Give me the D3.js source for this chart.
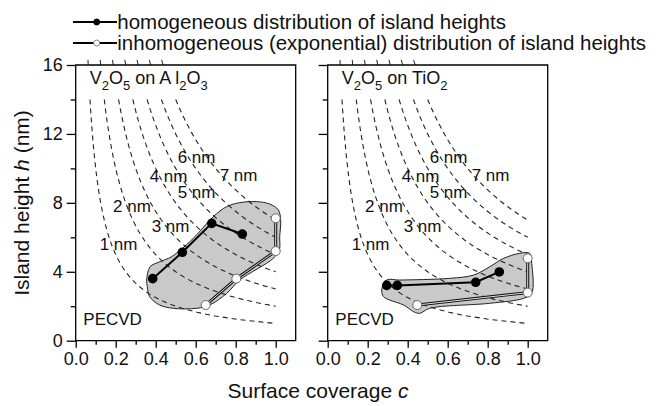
<!DOCTYPE html>
<html>
<head>
<meta charset="utf-8">
<title>Island height vs surface coverage</title>
<script src="https://d3js.org/d3.v7.min.js"></script>
<style>
  body { margin: 0; background: #fff; }
  svg { display: block; font-family: "Liberation Sans", Arial, sans-serif; }
</style>
</head>
<body>
<div id="chart"></div>
<script>
// iso-thickness lines (nm) and where their labels sit (c, h)
const thicknesses = [1, 2, 3, 4, 5, 6, 7];
const labelC = [0.12, 0.187, 0.38, 0.37, 0.51, 0.51, 0.72];
const labelH = [5.26, 7.49, 6.33, 9.23, 8.28, 10.31, 9.29];

// V2O5 on Al2O3
const alHomC = [0.385, 0.533, 0.68, 0.833];
const alHomH = [3.60, 5.13, 6.81, 6.19];
const alInhC = [0.65, 0.803, 1.0, 1.0];
const alInhH = [2.07, 3.60, 5.2, 7.1];
const alBlobC = [0.355, 0.372, 0.42, 0.48, 0.588, 0.688, 0.755, 0.82, 0.905, 0.97, 1.013, 1.025, 1.02, 1.018, 0.988, 0.82, 0.755, 0.67, 0.605, 0.488, 0.42, 0.37, 0.358];
const alBlobH = [3.52, 4.29, 4.58, 4.88, 5.94, 7.2, 7.78, 8.01, 8.07, 7.93, 7.59, 7.0, 6.04, 5.26, 4.78, 3.52, 2.75, 2.07, 1.88, 1.88, 2.07, 2.55, 3.13];

// V2O5 on TiO2
const tiHomC = [0.295, 0.348, 0.74, 0.858];
const tiHomH = [3.21, 3.21, 3.39, 3.99];
const tiInhC = [0.448, 1.0, 1.0];
const tiInhH = [2.07, 2.79, 4.78];
const tiBlobC = [0.27, 0.295, 0.36, 0.61, 0.73, 0.81, 0.88, 0.96, 1.01, 1.02, 1.02, 0.98, 0.81, 0.51, 0.46, 0.43, 0.38, 0.31, 0.28];
const tiBlobH = [2.94, 3.52, 3.52, 3.62, 3.81, 4.29, 4.78, 5.07, 5.07, 4.49, 2.75, 2.46, 2.17, 1.88, 1.59, 1.68, 2.07, 2.36, 2.55];

const xMajor = [0, 0.2, 0.4, 0.6, 0.8, 1.0];
const xMinor = [0.1, 0.3, 0.5, 0.7, 0.9];
const yMajor = [0, 4, 8, 12, 16];
const yMinor = [2, 6, 10, 14];
const legendLabels = ["homogeneous distribution of island heights",
                      "inhomogeneous (exponential) distribution of island heights"];

const W = 664, H = 406;
const svg = d3.select("#chart").append("svg").attr("width", W).attr("height", H);

const y = d3.scaleLinear().domain([0, 16]).range([340.7, 65]);
const xL = d3.scaleLinear().domain([0, 1.1]).range([75.7, 295.7]);
const xR = d3.scaleLinear().domain([0, 1.1]).range([327.7, 547.7]);

const zip = (cs, hs) => cs.map((c, i) => [c, hs[i]]);

function panel(x, opts) {
  const g = svg.append("g");
  const line = d3.line().x(d => x(d[0])).y(d => y(d[1]));

  // shaded region
  g.append("path")
    .datum(zip(opts.blobC, opts.blobH))
    .attr("d", d3.line().x(d => x(d[0])).y(d => y(d[1])).curve(d3.curveCatmullRomClosed.alpha(0.5)))
    .attr("fill", "#c9c9c9").attr("stroke", "#222").attr("stroke-width", 1);

  // dashed h = d / c curves
  thicknesses.forEach(d => {
    const pts = d3.range(0, 61).map(i => {
      const h = 14 - i * (14 - d) / 60;
      return [d / h, h];
    });
    g.append("path").datum(pts).attr("d", line)
      .attr("fill", "none").attr("stroke", "#222").attr("stroke-width", 1.1)
      .attr("stroke-dasharray", "5,4");
    g.append("path").datum([[d / 16.3, 16.3], [d / 16, 16]]).attr("d", line)
      .attr("fill", "none").attr("stroke", "#222").attr("stroke-width", 1);
  });

  g.selectAll(".lab").data(thicknesses).enter().append("text")
    .attr("x", (d, i) => x(labelC[i])).attr("y", (d, i) => y(labelH[i]))
    .attr("font-size", 17).attr("fill", "#111")
    .text(d => d + " nm");

  // inhomogeneous line (double line look)
  const inh = zip(opts.inhC, opts.inhH);
  g.append("path").datum(inh).attr("d", line)
    .attr("fill", "none").attr("stroke", "#111").attr("stroke-width", 3);
  g.append("path").datum(inh).attr("d", line)
    .attr("fill", "none").attr("stroke", "#e0e0e0").attr("stroke-width", 1);

  // homogeneous line
  const hom = zip(opts.homC, opts.homH);
  g.append("path").datum(hom).attr("d", line)
    .attr("fill", "none").attr("stroke", "#000").attr("stroke-width", 2);

  g.selectAll(".inh").data(inh).enter().append("circle")
    .attr("cx", d => x(d[0])).attr("cy", d => y(d[1])).attr("r", 4.5)
    .attr("fill", "#fff").attr("stroke", "#666").attr("stroke-width", 1);
  g.selectAll(".hom").data(hom).enter().append("circle")
    .attr("cx", d => x(d[0])).attr("cy", d => y(d[1])).attr("r", 4.8)
    .attr("fill", "#000");

  // frame
  g.append("path")
    .attr("d", `M${x(0)},${y(0)}V${y(16)}H${x(1.1)}V${y(0)}Z`)
    .attr("fill", "none").attr("stroke", "#000").attr("stroke-width", 1.3);

  // axes
  const ax = g.append("g").attr("transform", `translate(0,${y(0)})`)
    .call(d3.axisBottom(x).tickValues(xMajor).tickSize(7).tickPadding(5).tickFormat(d3.format(".1f")));
  const axm = g.append("g").attr("transform", `translate(0,${y(0)})`)
    .call(d3.axisBottom(x).tickValues(xMinor).tickSize(4).tickFormat(""));
  const ay = g.append("g").attr("transform", `translate(${x(0)},0)`)
    .call(d3.axisLeft(y).tickValues(yMajor).tickSize(9).tickPadding(4)
      .tickFormat(opts.yLabels ? d3.format("d") : ""));
  const aym = g.append("g").attr("transform", `translate(${x(0)},0)`)
    .call(d3.axisLeft(y).tickValues(yMinor).tickSize(5).tickFormat(""));
  [ax, axm, ay, aym].forEach(a => {
    a.select(".domain").remove();
    a.selectAll("line").attr("stroke", "#000").attr("stroke-width", 1.3);
    a.selectAll("text").attr("font-size", 18).attr("fill", "#111")
      .attr("font-family", "'Liberation Sans', Arial, sans-serif");
  });

  // panel title with subscripts
  const t = g.append("text").attr("x", x(0.07)).attr("y", y(14.9))
    .attr("font-size", 18).attr("fill", "#111");
  opts.title.forEach(p => {
    t.append("tspan").text(p[0])
      .attr("font-size", p[1] ? 13 : 18)
      .attr("dy", p[1] ? 6 : (p[2] ? -6 : 0));
  });

  g.append("text").attr("x", x(0.038)).attr("y", y(0.91))
    .attr("font-size", 17).attr("fill", "#111").text("PECVD");
}

panel(xL, {
  blobC: alBlobC, blobH: alBlobH, homC: alHomC, homH: alHomH, inhC: alInhC, inhH: alInhH,
  yLabels: true,
  title: [["V"], ["2", 1], ["O", 0, 1], ["5", 1], [" on A l", 0, 1], ["2", 1], ["O", 0, 1], ["3", 1]]
});
panel(xR, {
  blobC: tiBlobC, blobH: tiBlobH, homC: tiHomC, homH: tiHomH, inhC: tiInhC, inhH: tiInhH,
  yLabels: false,
  title: [["V"], ["2", 1], ["O", 0, 1], ["5", 1], [" on TiO", 0, 1], ["2", 1]]
});

// axis titles
const xt = svg.append("text").attr("x", 318).attr("y", 398)
  .attr("text-anchor", "middle").attr("font-size", 21).attr("fill", "#111");
xt.append("tspan").text("Surface coverage ");
xt.append("tspan").attr("font-style", "italic").text("c");

const yt = svg.append("text").attr("transform", "translate(29,203) rotate(-90)")
  .attr("text-anchor", "middle").attr("font-size", 21).attr("fill", "#111");
yt.append("tspan").text("Island height ");
yt.append("tspan").attr("font-style", "italic").text("h");
yt.append("tspan").text(" (nm)");

// legend
const lg = svg.append("g");
legendLabels.forEach((lab, i) => {
  const cy = 22 + i * 21;
  lg.append("line").attr("x1", 73).attr("x2", 117).attr("y1", cy).attr("y2", cy)
    .attr("stroke", "#000").attr("stroke-width", 2);
  lg.append("circle").attr("cx", 96.7).attr("cy", cy).attr("r", 3)
    .attr("fill", i === 0 ? "#000" : "#fff")
    .attr("stroke", i === 0 ? "#000" : "#888").attr("stroke-width", 1);
  lg.append("text").attr("x", 117.3).attr("y", cy + 6.5)
    .attr("font-size", 20.5).attr("fill", "#111").text(lab);
});
</script>
</body>
</html>
